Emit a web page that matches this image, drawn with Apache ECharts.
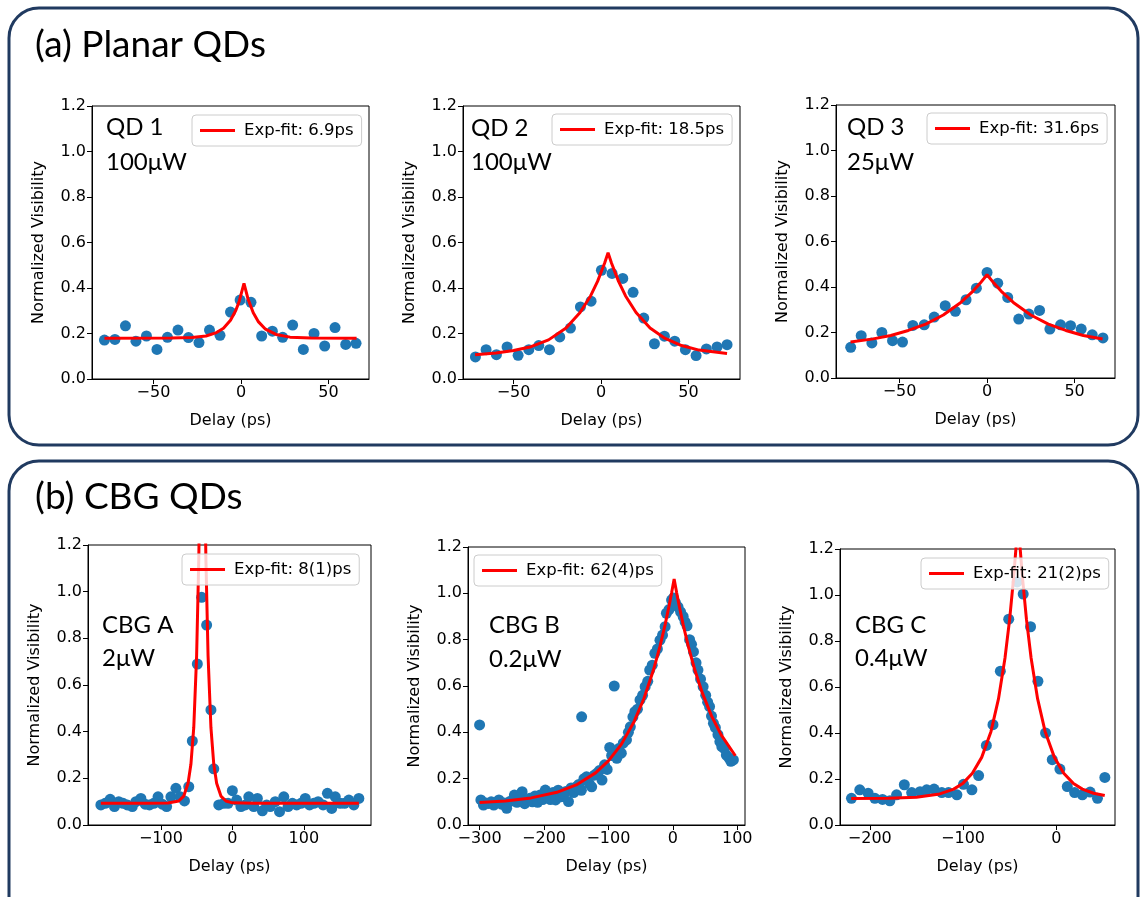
<!DOCTYPE html>
<html lang="en">
<head>
  <meta charset="UTF-8">
  <title>Visibility vs delay</title>
  <script src="https://cdn.jsdelivr.net/npm/echarts@6/dist/echarts.min.js"></script>
  <style>
    body { margin: 0; background: #fff; }
  </style>
</head>
<body>
  <div id="main" style="width: 1143px; height: 897px;"></div>

  <script>
    // tick labels
    let qdTicks = [-50, 0, 50]
    let cbgATicks = [-100, 0, 100]
    let cbgBTicks = [-300, -200, -100, 0, 100]
    let cbgCTicks = [-200, -100, 0]
    let visTicks = [0, 0.2, 0.4, 0.6, 0.8, 1.0, 1.2]

    // (a) QD 1
    let qd1X = [-78, -72, -66, -60, -54, -48, -42, -36, -30, -24, -18, -12, -6, -0.5, 5.7, 11.8, 17.9, 23.8, 29.5, 35.6, 41.7, 47.8, 53.7, 59.8, 65.7]
    let qd1Y = [0.171, 0.174, 0.234, 0.166, 0.189, 0.130, 0.183, 0.215, 0.182, 0.160, 0.215, 0.192, 0.294, 0.347, 0.337, 0.189, 0.210, 0.183, 0.237, 0.130, 0.200, 0.145, 0.226, 0.152, 0.157]
    let qd1FitX = [-78, -40, -28, -20, -14, -10, -6, -3, -1, 1.7, 4, 7, 10, 14, 20, 28, 40, 66]
    let qd1FitY = [0.179, 0.180, 0.182, 0.189, 0.204, 0.223, 0.258, 0.301, 0.342, 0.420, 0.352, 0.291, 0.251, 0.219, 0.196, 0.184, 0.180, 0.179]

    // (a) QD 2
    let qd2X = [-71.8, -65.7, -59.8, -53.7, -47.4, -41.3, -35.6, -29.5, -23.6, -17.5, -11.8, -5.7, 0.2, 6.3, 12.4, 18.3, 24.4, 30.5, 36.2, 42.1, 48.2, 54.3, 60.2, 66.3, 72]
    let qd2Y = [0.097, 0.129, 0.107, 0.141, 0.104, 0.129, 0.147, 0.129, 0.185, 0.224, 0.317, 0.342, 0.478, 0.464, 0.442, 0.381, 0.268, 0.155, 0.188, 0.166, 0.129, 0.103, 0.132, 0.141, 0.151]
    let qd2FitX = [-72, -60, -50, -40, -30, -20, -12, -6, -2, 2, 4, 6, 10, 14, 20, 28, 36, 46, 56, 72]
    let qd2FitY = [0.107, 0.114, 0.125, 0.142, 0.172, 0.224, 0.292, 0.365, 0.429, 0.509, 0.555, 0.509, 0.429, 0.365, 0.292, 0.224, 0.181, 0.147, 0.127, 0.112]

    // (a) QD 3
    let qd3X = [-77.9, -71.9, -65.8, -60.1, -54, -48.3, -42.4, -35.9, -30.2, -23.9, -18.1, -12, -6.1, 0, 6.1, 11.8, 18.1, 23.9, 30, 35.9, 42, 47.7, 53.8, 60.1, 66.2]
    let qd3Y = [0.135, 0.186, 0.154, 0.200, 0.164, 0.158, 0.231, 0.234, 0.268, 0.318, 0.293, 0.344, 0.395, 0.464, 0.417, 0.354, 0.259, 0.281, 0.297, 0.215, 0.234, 0.230, 0.215, 0.190, 0.176]
    let qd3FitX = [-78, -65, -55, -45, -35, -25, -15, -8, -4, 0, 4, 8, 15, 25, 35, 45, 55, 66]
    let qd3FitY = [0.158, 0.172, 0.187, 0.209, 0.237, 0.277, 0.332, 0.382, 0.416, 0.454, 0.416, 0.382, 0.332, 0.277, 0.237, 0.209, 0.187, 0.171]

    // (b) CBG A
    let cbgAX = [-184, -178, -171, -165, -159, -153, -147, -140, -135, -128, -122, -116, -110, -104, -98, -92, -86, -79, -73, -67,
      -61, -56, -49, -43, -36, -30, -26, -19, -12, -6, 0, 6, 12, 18, 23, 30, 35, 42, 48, 53,
      60, 66, 72, 78, 84, 90, 96, 102, 108, 114, 120, 127, 133, 139, 144, 151, 157, 163, 170, 177]
    let cbgAY = [0.086, 0.093, 0.110, 0.079, 0.100, 0.093, 0.086, 0.079, 0.100, 0.114, 0.089, 0.086, 0.093, 0.121, 0.089, 0.079, 0.121, 0.157, 0.121, 0.103,
      0.164, 0.360, 0.690, 0.976, 0.857, 0.493, 0.241, 0.086, 0.093, 0.093, 0.147, 0.107, 0.079, 0.086, 0.121, 0.079, 0.114, 0.061, 0.086, 0.079,
      0.100, 0.057, 0.121, 0.079, 0.093, 0.086, 0.093, 0.114, 0.086, 0.093, 0.100, 0.086, 0.136, 0.071, 0.121, 0.093, 0.093, 0.107, 0.086, 0.114]
    let cbgAFitX = [-184, -120, -90, -75, -68, -62, -58, -54, -50, -47, -45, -42, -39, -37, -34, -30, -26, -22, -16, -9, 0, 30, 177]
    let cbgAFitY = [0.093, 0.093, 0.094, 0.103, 0.124, 0.179, 0.260, 0.418, 0.726, 1.137, 1.550, 2.490, 1.550, 1.137, 0.726, 0.418, 0.260, 0.179, 0.124, 0.103, 0.095, 0.093, 0.093]

    // (b) CBG B
    let cbgBX = [-300, -298, -294, -290, -286, -282, -278, -274, -270, -266, -262, -258, -254, -250, -246, -242, -238, -234, -230, -226,
      -222, -218, -214, -210, -206, -202, -198, -194, -190, -186, -182, -178, -174, -170, -166, -162, -158, -154, -150, -146,
      -142, -141.6, -138, -134, -130, -126, -122, -118, -114, -110, -106, -102, -98, -95, -91, -87, -84, -80, -77, -72,
      -69, -66, -62, -59, -55, -51, -47, -43, -39, -36, -32, -28, -24, -20, -16, -12, -10, -6, -2, 1,
      4, 8, 12, 16, 19, 22, 26, 29, 32, 36, 39, 43, 47, 51, 54, 57, 60, 63, 66, 70, 73, 76, 80, 83, 87, 90, 94]
    let cbgBY = [0.432, 0.108, 0.086, 0.095, 0.093, 0.100, 0.086, 0.098, 0.108, 0.090, 0.095, 0.072, 0.100, 0.105, 0.129, 0.098, 0.110, 0.144, 0.092, 0.108,
      0.115, 0.100, 0.125, 0.098, 0.130, 0.110, 0.151, 0.120, 0.110, 0.140, 0.108, 0.150, 0.122, 0.135, 0.145, 0.101, 0.160, 0.140, 0.165, 0.175,
      0.150, 0.467, 0.200, 0.208, 0.180, 0.165, 0.215, 0.223, 0.235, 0.194, 0.260, 0.240, 0.335, 0.300, 0.600, 0.288, 0.330, 0.310, 0.353, 0.367,
      0.400, 0.424, 0.467, 0.489, 0.500, 0.540, 0.560, 0.597, 0.620, 0.669, 0.690, 0.741, 0.760, 0.798, 0.820, 0.856, 0.914, 0.930, 0.971, 0.980,
      0.960, 0.942, 0.920, 0.900, 0.877, 0.860, 0.800, 0.780, 0.748, 0.700, 0.669, 0.630, 0.597, 0.560, 0.530, 0.511, 0.470, 0.439, 0.420, 0.390, 0.360, 0.338, 0.330, 0.302, 0.290, 0.275, 0.281]
    let cbgBFitX = [-300, -260, -220, -180, -150, -120, -100, -80, -60, -45, -30, -20, -12, -6, -2, 2, 6, 10, 16, 24, 34, 46, 60, 75, 97]
    let cbgBFitY = [0.097, 0.104, 0.117, 0.141, 0.173, 0.225, 0.277, 0.348, 0.447, 0.545, 0.670, 0.771, 0.865, 0.944, 1.001, 1.062, 1.001, 0.944, 0.865, 0.771, 0.670, 0.568, 0.471, 0.389, 0.299]

    // (b) CBG C
    let cbgCX = [-219.7, -210.8, -201.8, -194.6, -186.4, -178.5, -171.3, -163, -155.1, -146.1, -139, -131.1, -122.8, -115.6, -106.6, -99.5, -90.5, -83.3,
      -75, -67.9, -60, -51, -42, -35.5, -27.6, -19.7, -11.5, -4.3, 3.9, 11.8, 19.7, 28, 36.3, 44.2, 52.1]
    let cbgCY = [0.116, 0.153, 0.138, 0.116, 0.111, 0.105, 0.131, 0.175, 0.141, 0.145, 0.153, 0.156, 0.141, 0.141, 0.131, 0.177, 0.153, 0.215,
      0.346, 0.436, 0.669, 0.895, 1.057, 1.004, 0.862, 0.625, 0.400, 0.284, 0.243, 0.167, 0.141, 0.131, 0.143, 0.116, 0.207]
    let cbgCFitX = [-220, -180, -150, -125, -110, -100, -90, -80, -70, -62, -55, -50, -46, -43, -41, -39, -36, -32, -27, -20, -12, -2, 8, 18, 28, 40, 52]
    let cbgCFitY = [0.115, 0.116, 0.121, 0.135, 0.156, 0.182, 0.225, 0.294, 0.407, 0.548, 0.726, 0.895, 1.065, 1.215, 1.328, 1.215, 1.065, 0.895, 0.726, 0.548, 0.407, 0.294, 0.225, 0.182, 0.156, 0.138, 0.128]

    let zip = (a, b) => a.map((v, i) => [v, b[i]])

    //每个子图的配置
    let panels = [
      { grid: { left: 92, top: 106, width: 277, height: 273 }, xMin: -85.1, xMax: 73.1, ticks: qdTicks,
        x: qd1X, y: qd1Y, fx: qd1FitX, fy: qd1FitY, fit: 'Exp-fit: 6.9ps', legend: { left: 192, top: 115 },
        label: ['QD 1', '100μW'], lx: 106, ly: [127, 162] },
      { grid: { left: 463, top: 106, width: 277, height: 273 }, xMin: -78.9, xMax: 79.4, ticks: qdTicks,
        x: qd2X, y: qd2Y, fx: qd2FitX, fy: qd2FitY, fit: 'Exp-fit: 18.5ps', legend: { left: 552, top: 114 },
        label: ['QD 2', '100μW'], lx: 471, ly: [128, 162] },
      { grid: { left: 836, top: 105, width: 279, height: 273 }, xMin: -86.3, xMax: 73.1, ticks: qdTicks,
        x: qd3X, y: qd3Y, fx: qd3FitX, fy: qd3FitY, fit: 'Exp-fit: 31.6ps', legend: { left: 927, top: 113 },
        label: ['QD 3', '25μW'], lx: 847, ly: [127, 162] },
      { grid: { left: 88, top: 545, width: 283, height: 280 }, xMin: -202, xMax: 194, ticks: cbgATicks,
        x: cbgAX, y: cbgAY, fx: cbgAFitX, fy: cbgAFitY, fit: 'Exp-fit: 8(1)ps', legend: { left: 182, top: 554 },
        label: ['CBG A', '2μW'], lx: 102, ly: [625, 658] },
      { grid: { left: 468, top: 547, width: 277, height: 278 }, xMin: -318, xMax: 112, ticks: cbgBTicks,
        x: cbgBX, y: cbgBY, fx: cbgBFitX, fy: cbgBFitY, fit: 'Exp-fit: 62(4)ps', legend: { left: 474, top: 555 },
        label: ['CBG B', '0.2μW'], lx: 489, ly: [625, 659] },
      { grid: { left: 840, top: 549, width: 275, height: 276 }, xMin: -232, xMax: 63, ticks: cbgCTicks,
        x: cbgCX, y: cbgCY, fx: cbgCFitX, fy: cbgCFitY, fit: 'Exp-fit: 21(2)ps', legend: { left: 921, top: 558 },
        label: ['CBG C', '0.4μW'], lx: 855, ly: [625, 658] }
    ]

    let axisFont = 'DejaVu Sans'
    let noteFont = 'Lato'

    let grids = [], xAxes = [], yAxes = [], series = [], legends = []
    let graphics = [
      { type: 'rect', shape: { x: 9, y: 8, width: 1129, height: 437, r: 30 },
        style: { fill: 'none', stroke: '#203a60', lineWidth: 3 } },
      { type: 'rect', shape: { x: 9, y: 461, width: 1129, height: 470, r: 30 },
        style: { fill: 'none', stroke: '#203a60', lineWidth: 3 } },
      { type: 'text', x: 35, y: 45, style: { text: '(a) Planar QDs', font: '37px ' + noteFont, fill: '#000', verticalAlign: 'middle' } },
      { type: 'text', x: 35, y: 497, style: { text: '(b) CBG QDs', font: '37px ' + noteFont, fill: '#000', verticalAlign: 'middle' } }
    ]

    panels.forEach((p, i) => {
      grids.push(Object.assign({ show: true, borderColor: '#000', borderWidth: 1, backgroundColor: 'transparent' }, p.grid))
      xAxes.push({
        gridIndex: i, type: 'value', min: p.xMin, max: p.xMax,
        axisLine: { show: true, onZero: false, lineStyle: { color: '#000', width: 1 } },
        axisTick: { show: true, length: 5, customValues: p.ticks, lineStyle: { color: '#000' } },
        axisLabel: { customValues: p.ticks, color: '#000', fontSize: 16, fontFamily: axisFont, margin: 6,
          formatter: v => String(v).replace('-', '\u2212') },
        splitLine: { show: false },
        name: 'Delay (ps)', nameLocation: 'middle', nameGap: 34,
        nameTextStyle: { color: '#000', fontSize: 16, fontFamily: axisFont }
      })
      yAxes.push({
        gridIndex: i, type: 'value', min: 0, max: 1.2, interval: 0.2,
        axisLine: { show: true, onZero: false, lineStyle: { color: '#000', width: 1 } },
        axisTick: { show: true, length: 5, lineStyle: { color: '#000' } },
        axisLabel: { customValues: visTicks, color: '#000', fontSize: 16, fontFamily: axisFont, margin: 6,
          formatter: v => v.toFixed(1) },
        splitLine: { show: false },
        name: 'Normalized Visibility', nameLocation: 'middle', nameGap: 45,
        nameTextStyle: { color: '#000', fontSize: 16, fontFamily: axisFont }
      })
      series.push({
        type: 'scatter', name: 'data' + i, xAxisIndex: i, yAxisIndex: i,
        data: zip(p.x, p.y), symbolSize: 11, silent: true,
        itemStyle: { color: '#1f77b4', opacity: 1 }
      })
      series.push({
        type: 'line', name: p.fit, xAxisIndex: i, yAxisIndex: i,
        data: zip(p.fx, p.fy), showSymbol: false, symbol: 'none', clip: true, silent: true, z: 3,
        lineStyle: { color: '#ff0000', width: 3 }, itemStyle: { color: '#ff0000' }
      })
      legends.push({
        data: [p.fit], left: p.legend.left, top: p.legend.top, selectedMode: false,
        icon: 'rect', itemWidth: 35, itemHeight: 3,
        backgroundColor: 'rgba(255,255,255,0.8)', borderColor: '#cccccc', borderWidth: 1, borderRadius: 4,
        padding: [7, 8, 7, 8],
        textStyle: { fontFamily: axisFont, fontSize: 16.5, color: '#000', padding: [0, 0, 0, 4] }
      })
      p.label.forEach((t, k) => {
        graphics.push({ type: 'text', x: p.lx, y: p.ly[k], z: 10,
          style: { text: t, font: '24px ' + noteFont, fill: '#000', verticalAlign: 'middle' } })
      })
    })

    let myChart = echarts.init(document.querySelector('#main'))
    myChart.setOption({
      animation: false,
      backgroundColor: '#fff',
      grid: grids,
      xAxis: xAxes,
      yAxis: yAxes,
      legend: legends,
      series: series,
      graphic: graphics
    })
  </script>
</body>
</html>
